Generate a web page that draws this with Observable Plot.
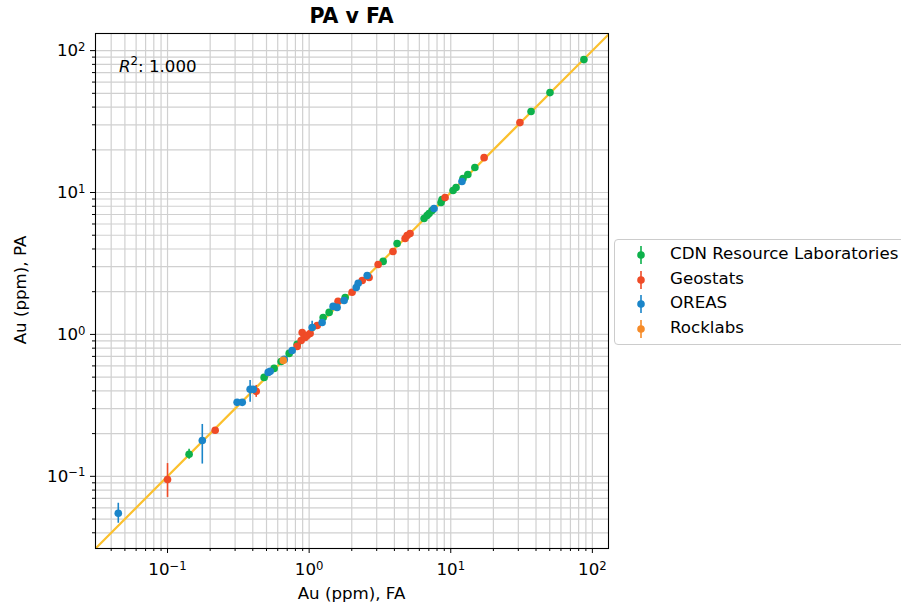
<!DOCTYPE html>
<html>
<head>
<meta charset="utf-8">
<script src="https://cdn.jsdelivr.net/npm/d3@7"></script>
<script src="https://cdn.jsdelivr.net/npm/@observablehq/plot@0.6"></script>
<style>
  html, body { margin: 0; padding: 0; background: #fff; overflow: hidden; }
  #wrap { position: relative; width: 901px; height: 610px; overflow: hidden; font-family: "DejaVu Sans", sans-serif; color: #000; }
  #chart { position: absolute; left: 0; top: 0; }
  .abs { position: absolute; white-space: nowrap; line-height: 1.2; }
  #title { left: 0; width: 703px; top: 4px; text-align: center; font-size: 20.5px; font-weight: bold; }
  #xlabel { left: 95px; width: 513px; top: 584px; text-align: center; font-size: 16.67px; }
  #ylabel { left: 21px; top: 290px; font-size: 16.67px; transform: translate(-50%, -50%) rotate(-90deg); }
  #r2 { left: 119px; top: 57px; font-size: 16.67px; }
  #r2 sup { font-size: 11.7px; vertical-align: 7px; line-height: 0; }
  #legend { left: 614px; top: 239px; width: 320px; height: 106px; border: 1px solid #cccccc; border-radius: 4px; box-sizing: border-box; background: #fff; }
  .item { position: absolute; left: 0; height: 20px; font-size: 16.67px; line-height: 20px; }
  .item svg { position: absolute; left: 18px; top: 1px; }
  .item span { position: absolute; left: 55px; top: 0px; }
</style>
</head>
<body>
<div id="wrap">
  <div id="chart"></div>
  <div id="title" class="abs">PA v FA</div>
  <div id="xlabel" class="abs">Au (ppm), FA</div>
  <div id="ylabel" class="abs">Au (ppm), PA</div>
  <div id="r2" class="abs"><i>R</i><sup>2</sup>: 1.000</div>
  <div id="legend" class="abs"></div>
</div>
<script>
// ---- data (Au ppm) ----
const labs = ["CDN Resource Laboratories", "Geostats", "OREAS", "Rocklabs"];
const labColors = ["#0db14b", "#ef4b27", "#1a85c9", "#f68b28"];

const cdnFA = [0.142, 0.481, 0.566, 0.634, 0.723, 0.823, 1.256, 1.384, 1.796, 3.33, 4.18, 6.48, 6.80, 7.03, 7.38, 8.54, 8.68, 10.38, 10.9, 12.2, 13.2, 14.8, 36.9, 50.2, 87.2];
const cdnPA = [0.143, 0.498, 0.576, 0.645, 0.735, 0.851, 1.317, 1.429, 1.822, 3.27, 4.37, 6.56, 6.89, 7.11, 7.47, 8.50, 8.93, 10.33, 10.85, 12.55, 13.4, 15.0, 37.2, 50.6, 86.4];
const cdnLo = [0.132, null, null, null, null, null, null, null, null, null, null, null, null, null, null, null, null, null, null, null, null, null, null, null, null];
const cdnHi = [0.155, null, null, null, null, null, null, null, null, null, null, null, null, null, null, null, null, null, null, null, null, null, null, null, null];

const geoFA = [0.100, 0.217, 0.423, 0.823, 0.893, 0.878, 0.937, 0.968, 1.016, 1.14, 1.60, 2.01, 2.37, 2.65, 3.07, 3.91, 4.76, 4.92, 5.16, 9.12, 17.2, 30.8];
const geoPA = [0.095, 0.211, 0.397, 0.823, 1.03, 0.907, 0.952, 0.984, 1.016, 1.157, 1.71, 1.98, 2.40, 2.52, 3.11, 3.84, 4.74, 4.98, 5.14, 9.22, 17.6, 31.1];
const geoLo = [0.071, null, 0.360, null, 0.97, 0.85, null, null, null, null, null, null, null, null, null, null, null, null, null, null, null, null];
const geoHi = [0.123, null, 0.437, null, 1.08, 0.97, null, null, null, null, null, null, null, null, null, null, null, null, null, null, null, null];

const oreasFA = [0.0449, 0.176, 0.310, 0.337, 0.383, 0.403, 0.514, 0.531, 0.667, 0.759, 1.05, 1.235, 1.476, 1.576, 1.766, 2.15, 2.22, 2.57, 7.62, 12.0];
const oreasPA = [0.0549, 0.179, 0.332, 0.332, 0.410, 0.410, 0.540, 0.549, 0.667, 0.771, 1.12, 1.214, 1.575, 1.55, 1.735, 2.14, 2.29, 2.60, 7.71, 11.95];
const oreasLo = [0.0467, 0.122, null, null, 0.332, null, null, null, null, null, 1.05, null, null, null, null, null, null, null, null, null];
const oreasHi = [0.0646, 0.232, null, null, 0.474, null, null, null, null, null, 1.24, null, null, null, null, null, null, null, null, null];

const rockFA = [0.656];
const rockPA = [0.656];
const rockLo = [null];
const rockHi = [null];

const xDomain = [0.031, 130];
const yDomain = [0.031, 132];
const majorTicks = [0.1, 1, 10, 100];
const tickBase = "10";
const tickExp = ["\u22121", "0", "1", "2"];
const minorMult = [2, 3, 4, 5, 6, 7, 8, 9];
const decades = [0.01, 0.1, 1, 10, 100];

// ---- build tables ----
function rows(lab, xs, ys, lo, hi) {
  return xs.map((x, i) => ({lab, x, y: ys[i], lo: lo[i], hi: hi[i]}));
}
const data = [
  ...rows(labs[0], cdnFA, cdnPA, cdnLo, cdnHi),
  ...rows(labs[1], geoFA, geoPA, geoLo, geoHi),
  ...rows(labs[2], oreasFA, oreasPA, oreasLo, oreasHi),
  ...rows(labs[3], rockFA, rockPA, rockLo, rockHi)
];
const errs = data.filter(d => d.lo != null);

const minorX = decades.flatMap(d => minorMult.map(m => d * m)).filter(v => v > xDomain[0] && v < xDomain[1]);
const minorY = decades.flatMap(d => minorMult.map(m => d * m)).filter(v => v > yDomain[0] && v < yDomain[1]);
const identity = [{v: Math.min(xDomain[0], yDomain[0])}, {v: Math.max(xDomain[1], yDomain[1])}];
const fmt = d => { const i = majorTicks.indexOf(d); return i < 0 ? "" : tickBase + "^" + tickExp[i]; };

const plot = Plot.plot({
  width: 901,
  height: 610,
  marginLeft: 95,
  marginRight: 293,
  marginTop: 33,
  marginBottom: 62,
  style: {fontFamily: "DejaVu Sans, sans-serif", fontSize: "16.67px", color: "#000", background: "#fff"},
  x: {type: "log", domain: xDomain, label: null},
  y: {type: "log", domain: yDomain, label: null},
  color: {domain: labs, range: labColors},
  marks: [
    Plot.gridX([...majorTicks, ...minorX], {stroke: "#d0d0d0", strokeOpacity: 1, strokeWidth: 1.2}),
    Plot.gridY([...majorTicks, ...minorY], {stroke: "#d0d0d0", strokeOpacity: 1, strokeWidth: 1.2}),
    Plot.line(identity, {x: "v", y: "v", stroke: "#fbc02d", strokeWidth: 2.2, clip: true}),
    Plot.ruleX(errs, {x: "x", y1: "lo", y2: "hi", stroke: "lab", strokeWidth: 1.6}),
    Plot.dot(data, {x: "x", y: "y", fill: "lab", r: 3.8}),
    Plot.frame({stroke: "#000", strokeWidth: 1.1}),
    Plot.axisX(majorTicks, {tickSize: 5, tickPadding: 10, tickFormat: fmt, fontSize: 16.67, stroke: "#000"}),
    Plot.axisX(minorX, {tickSize: 3, tickFormat: () => "", stroke: "#000"}),
    Plot.axisY(majorTicks, {tickSize: 5, tickPadding: 5, tickFormat: fmt, fontSize: 16.67, stroke: "#000"}),
    Plot.axisY(minorY, {tickSize: 3, tickFormat: () => "", stroke: "#000"})
  ]
});

// render exponents as raised, smaller text (like mathtext)
d3.select(plot).selectAll("text").each(function () {
  const t = this.textContent;
  if (t.startsWith(tickBase + "^")) {
    const e = t.slice(tickBase.length + 1);
    this.textContent = tickBase;
    d3.select(this).append("tspan").attr("dy", "-0.45em").attr("font-size", "0.7em").text(e);
  }
});
document.getElementById("chart").appendChild(plot);

// ---- legend ----
const legend = document.getElementById("legend");
labs.forEach((lab, i) => {
  const it = document.createElement("div");
  it.className = "item";
  it.style.top = (4 + i * 24.5) + "px";
  it.innerHTML = `<svg width="16" height="20"><line x1="8" x2="8" y1="1" y2="19" stroke="${labColors[i]}" stroke-width="1.6"/><circle cx="8" cy="10" r="3.8" fill="${labColors[i]}"/></svg><span>${lab}</span>`;
  legend.appendChild(it);
});
</script>
</body>
</html>
